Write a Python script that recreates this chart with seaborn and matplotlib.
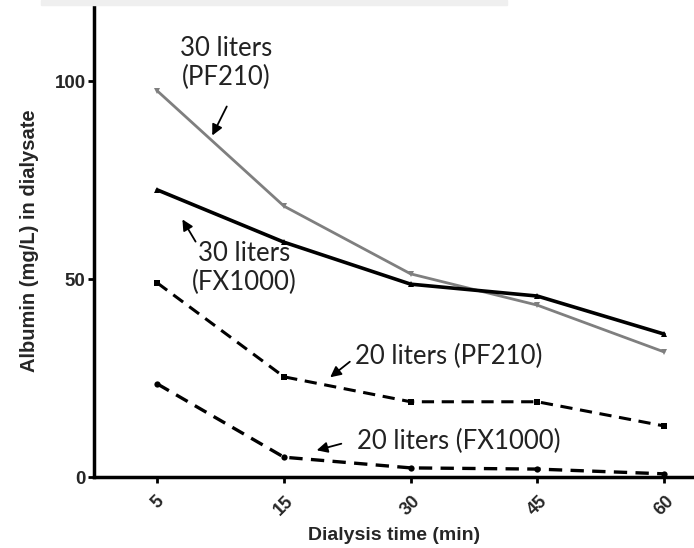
import pandas as pd
import numpy as np
import matplotlib
matplotlib.use("Agg")
import matplotlib.pyplot as plt
from matplotlib.patches import Rectangle
import seaborn as sns

# dialysis time points (min), shown as evenly spaced categories
times = ["5", "15", "30", "45", "60"]

# albumin in dialysate (mg/L)
pf210_30 = [97.5, 68.4, 51.3, 43.4, 31.6]
fx1000_30 = [72.5, 59.3, 48.7, 45.7, 36.1]
pf210_20 = [49.0, 25.3, 19.0, 19.0, 12.9]
fx1000_20 = [23.5, 5.0, 2.3, 2.0, 0.8]

series = {
    "30 liters (PF210)": pf210_30,
    "30 liters (FX1000)": fx1000_30,
    "20 liters (PF210)": pf210_20,
    "20 liters (FX1000)": fx1000_20,
}
rows = []
for name, vals in series.items():
    for i, v in enumerate(vals):
        rows.append({"series": name, "pos": i, "albumin": v})
df = pd.DataFrame(rows)

sns.set_style("white")
plt.rcParams["font.family"] = ["Liberation Sans", "DejaVu Sans"]

fig = plt.figure(figsize=(6.94, 5.48), dpi=100)
ax = fig.add_axes([94 / 694, 1 - 477 / 548, 600 / 694, 472 / 548])

styles = {
    "30 liters (PF210)": dict(color="#7f7f7f", lw=2.0, marker="v", ls="-"),
    "30 liters (FX1000)": dict(color="black", lw=2.6, marker="^", ls="-"),
    "20 liters (PF210)": dict(color="black", lw=2.2, marker="s", ls=(0, (4, 2.5))),
    "20 liters (FX1000)": dict(color="black", lw=2.4, marker="o", ls=(0, (4, 2.5))),
}
for name, st in styles.items():
    d = df[df["series"] == name]
    sns.lineplot(data=d, x="pos", y="albumin", ax=ax, color=st["color"],
                 linewidth=st["lw"], linestyle=st["ls"], marker=st["marker"],
                 markersize=4.5, markeredgewidth=0, legend=False)

ax.set_xlim(-0.5, 4.237)
ax.set_ylim(0, 119.2)
ax.set_xticks(range(len(times)))
ax.set_xticklabels(times, rotation=45, fontweight="bold", fontsize=13)
ax.set_yticks([0, 50, 100])
ax.set_yticklabels(["0", "50", "100"], fontweight="bold", fontsize=13.5)
ax.tick_params(axis="both", direction="out", length=4, width=2, color="black",
               bottom=True, left=True, pad=2)
ax.tick_params(axis="x", pad=7)
for lab in ax.get_xticklabels():
    lab.set_ha("center")
    lab.set_va("top")

for s in ["top", "right"]:
    ax.spines[s].set_visible(False)
for s in ["left", "bottom"]:
    ax.spines[s].set_linewidth(2.5)
    ax.spines[s].set_color("black")

ax.set_xlabel("Dialysis time (min)", fontweight="bold", fontsize=14, labelpad=6)
ax.set_ylabel("Albumin (mg/L) in dialysate", fontweight="bold", fontsize=14.5, labelpad=11)

# annotations with arrows
afont = dict(family=["Lato", "DejaVu Sans"], fontsize=18.5, color="#222222")
arrow = dict(arrowstyle="-|>", color="black", lw=1.3, mutation_scale=16)

def px(x, y):
    return (x / 694, 1 - y / 548)

ax.annotate("", xy=px(211, 138), xytext=px(228, 104), xycoords="figure fraction",
            textcoords="figure fraction", arrowprops=arrow)
fig.text(*px(226, 63), "30 liters\n(PF210)", ha="center", va="center",
         linespacing=1.2, **afont)

ax.annotate("", xy=px(181, 217), xytext=px(197, 244), xycoords="figure fraction",
            textcoords="figure fraction", arrowprops=arrow)
fig.text(*px(244, 268), "30 liters\n(FX1000)", ha="center", va="center",
         linespacing=1.2, **afont)

ax.annotate("", xy=px(328, 379), xytext=px(352, 360), xycoords="figure fraction",
            textcoords="figure fraction", arrowprops=arrow)
fig.text(*px(355, 356), "20 liters (PF210)", ha="left", va="center", **afont)

ax.annotate("", xy=px(314, 451), xytext=px(344, 443), xycoords="figure fraction",
            textcoords="figure fraction", arrowprops=arrow)
fig.text(*px(357, 441), "20 liters (FX1000)", ha="left", va="center", **afont)

# light grey strip along the top edge
fig.patches.append(Rectangle((41 / 694, 1 - 5 / 548), (507 - 41) / 694, 5 / 548,
                             transform=fig.transFigure, color="#efefef", zorder=0))

fig.savefig("out.png", dpi=100)
